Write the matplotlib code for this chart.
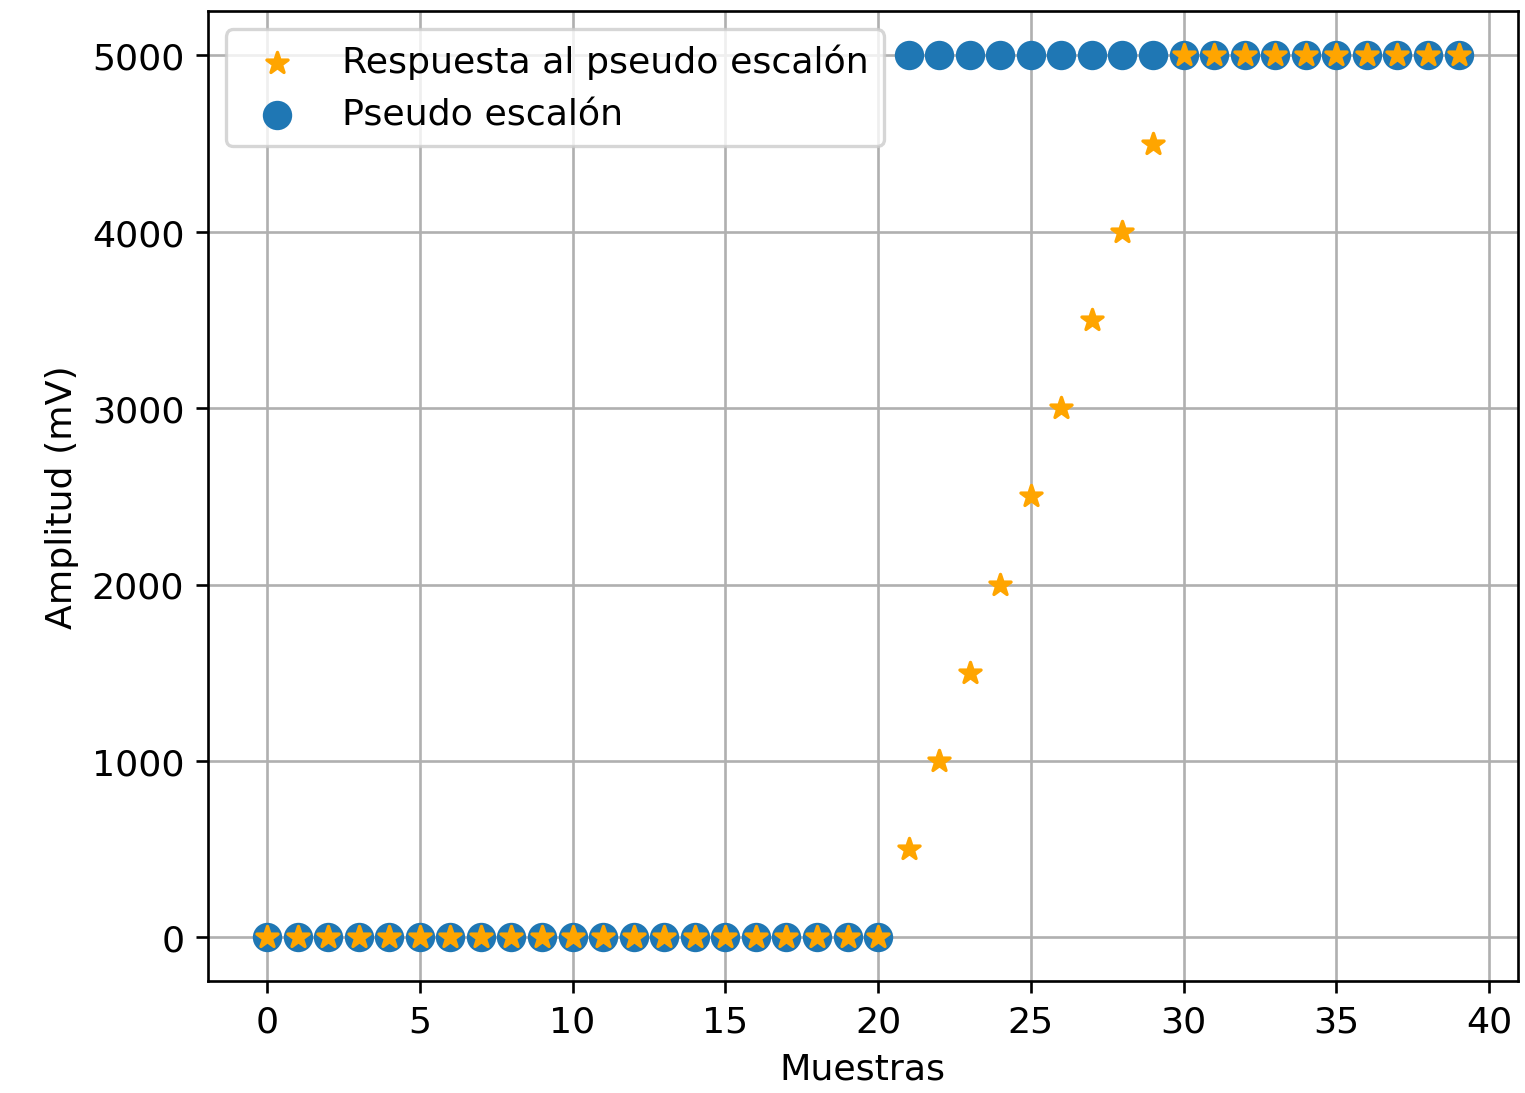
import matplotlib.pyplot as plt

muestras = list(range(40))
escalon = [0] * 21 + [5000] * 19
respuesta = [0] * 21 + [500, 1000, 1500, 2000, 2500, 3000, 3500, 4000, 4500] + [5000] * 10

plt.rcParams['font.size'] = 11

fig, ax = plt.subplots(figsize=(6.4, 4.588), dpi=238.4)
fig.subplots_adjust(left=0.136, right=0.995, top=0.989, bottom=0.102)

ax.scatter(muestras, respuesta, marker='*', color='orange', s=45, zorder=3,
           label='Respuesta al pseudo escalón')
ax.scatter(muestras, escalon, marker='o', color='#1f77b4', s=62, zorder=2,
           label='Pseudo escalón')

ax.set_xlabel('Muestras')
ax.set_ylabel('Amplitud (mV)')
ax.grid(True)
ax.legend(loc='upper left')

plt.savefig('out.png')
plt.close()
